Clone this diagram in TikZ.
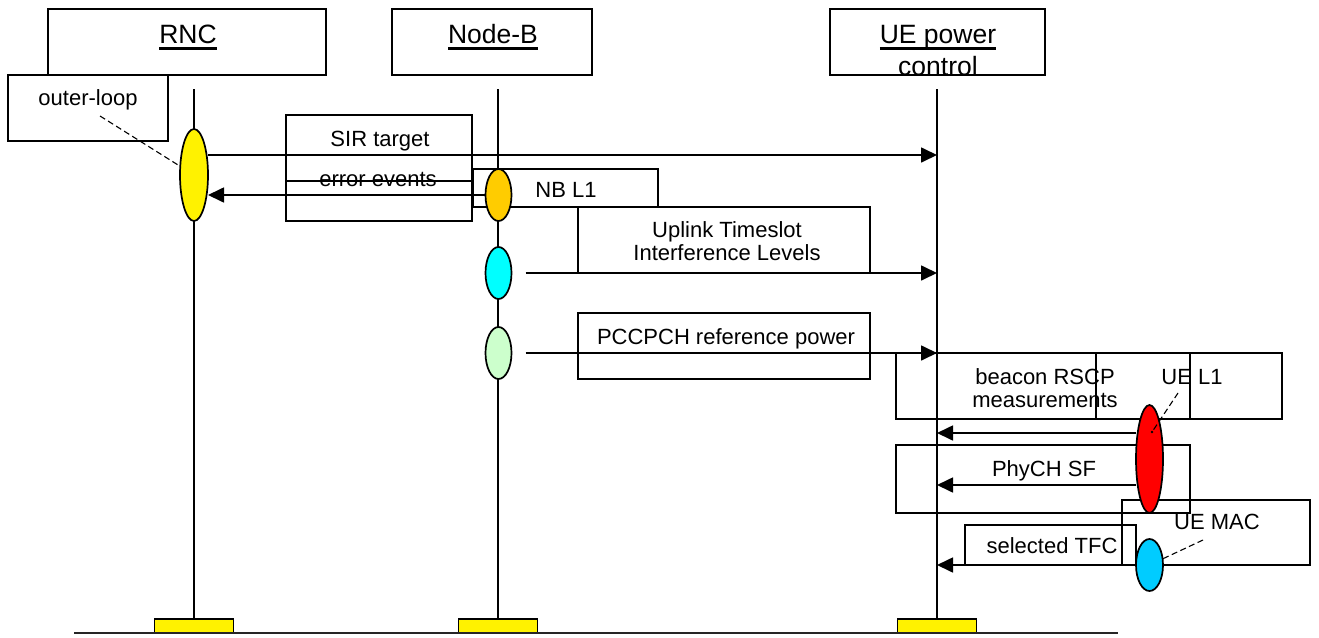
\documentclass[tikz,border=0pt]{standalone}
\usepackage{fontspec}
\setmainfont{Liberation Sans}
\usetikzlibrary{arrows.meta,shapes.geometric}

% underlined header word with a heavy rule
\newcommand\hdul[1]{\setbox0\hbox{#1}\rlap{\rule[-6.6pt]{\wd0}{3pt}}\box0}
% centred multi-line label whose base is the first line's baseline
\newcommand\lines[1]{\begin{tabular}[t]{@{}c@{}}#1\end{tabular}}

\tikzset{
  box/.style={draw, line width=1.7pt, inner sep=0pt, outer sep=0pt, anchor=north west},
  lbl/.style={font=\fontsize{22}{23.5}\selectfont, anchor=base, inner sep=0pt},
  hdr/.style={font=\fontsize{26.5}{32}\selectfont, anchor=base, inner sep=0pt},
  life/.style={line width=1.7pt},
  msg/.style={line width=1.7pt, -{Triangle[length=16pt,width=15pt]}},
  note/.style={line width=1.1pt, dash pattern=on 6pt off 3.5pt},
  proc/.style={ellipse, draw, line width=1.7pt, inner sep=0pt, outer sep=0pt,
               minimum width=26pt, minimum height=52pt},
  bar/.style={draw, line width=1.8pt, fill=yellow, inner sep=0pt, outer sep=0pt,
              minimum width=79pt, minimum height=14pt, anchor=south},
}
\definecolor{procOrange}{HTML}{FFCC00}
\definecolor{procCyan}{HTML}{00FFFF}
\definecolor{procGreen}{HTML}{CCFFCC}
\definecolor{procBlue}{HTML}{00CCFF}

\begin{document}
\begin{tikzpicture}[x=1pt,y=-1pt]
\useasboundingbox (0,0) rectangle (1319,637);

% entity headers
\node[box, minimum width=278pt, minimum height=66pt] (rncBox) at (48,9) {};
\node[box, minimum width=200pt, minimum height=66pt] (nbBox) at (392,9) {};
\node[box, minimum width=215pt, minimum height=66pt] (ueBox) at (830,9) {};
\node[hdr] (rncTxt) at (188,43) {\hdul{RNC}};
\node[hdr] (nbTxt) at (493,43) {\hdul{Node-B}};
\node[hdr] (ueTxt) at (938,43) {\lines{\hdul{UE power}\\control}};

% label frames
\node[box, minimum width=160pt, minimum height=66pt] (olBox) at (8,75) {};
\node[box, minimum width=186pt, minimum height=66pt] (sirBox) at (286,115) {};
\node[box, minimum width=186pt, minimum height=66pt] (errBox) at (286,155) {};
\node[box, minimum width=185pt, minimum height=38pt] (nbl1Box) at (473,169) {};
\node[box, minimum width=292pt, minimum height=66pt] (ulBox) at (578,207) {};
\node[box, minimum width=292pt, minimum height=66pt] (pcBox) at (578,313) {};
\node[box, minimum width=294pt, minimum height=66pt] (bcBox) at (896,353) {};
\node[box, minimum width=186pt, minimum height=66pt] (uel1Box) at (1096,353) {};
\node[box, minimum width=294pt, minimum height=68pt] (phBox) at (896,445) {};
\node[box, minimum width=188pt, minimum height=65pt] (macBox) at (1122,500) {};
\node[box, minimum width=171pt, minimum height=40pt] (tfcBox) at (965,525) {};

% baseline and lifeline feet
\node[bar] (rncBar) at (194,633) {};
\node[bar] (nbBar) at (498,633) {};
\node[bar] (ueBar) at (937,633) {};
\coordinate (baseL) at (74,633);
\coordinate (baseR) at (1118,633);
\draw[line width=2.6pt, black!85] (baseL) -- (baseR);

% lifelines
\coordinate (rncTop) at (194,89);
\coordinate (nbTop) at (498,89);
\coordinate (ueTop) at (937,89);
\draw[life] (rncTop) -- (rncBar.north);
\draw[life] (nbTop) -- (nbBar.north);
\draw[life] (ueTop) -- (ueBar.north);

% processing ellipses
\node[proc, fill=yellow, minimum width=28pt, minimum height=92pt] (yel) at (194,175) {};
\node[proc, fill=procOrange] (orng) at (498.5,195) {};
\node[proc, fill=procCyan] (cyan) at (498.5,273) {};
\node[proc, fill=procGreen] (grn) at (498.5,353) {};
\node[proc, fill=red, minimum width=27pt, minimum height=108pt] (redE) at (1149.5,459) {};
\node[proc, fill=procBlue, minimum width=27pt] (blueE) at (1149.5,565) {};

% messages
\coordinate (sirS) at ([yshift=20pt]yel.east);
\draw[msg] (sirS) -- (sirS -| ueTop);
\draw[msg] (orng.west) -- (orng.west -| yel.east);
\coordinate (ulS) at ([xshift=14pt]cyan.east);
\draw[msg] (ulS) -- (ulS -| ueTop);
\coordinate (pcS) at ([xshift=14pt]grn.east);
\draw[msg] (pcS) -- (pcS -| ueTop);
\coordinate (bcS) at ([yshift=26pt]redE.west);
\draw[msg] (bcS) -- (bcS -| ueTop);
\coordinate (phS) at ([yshift=-26pt]redE.west);
\draw[msg] (phS) -- (phS -| ueTop);
\draw[msg] (blueE.west) -- (blueE.west -| ueTop);

% labels
\node[lbl] (olTxt) at (88,105) {outer-loop};
\node[lbl] (sirTxt) at (380,146) {SIR target};
\node[lbl] (errTxt) at (378,186) {error events};
\node[lbl] (nbl1Txt) at (566,197) {NB L1};
\node[lbl] (ulTxt) at (727,237) {\lines{Uplink Timeslot\\Interference Levels}};
\node[lbl] (pcTxt) at (726,344) {PCCPCH reference power};
\node[lbl] (bcTxt) at (1045,384) {\lines{beacon RSCP\\measurements}};
\node[lbl] (uel1Txt) at (1192,384) {UE L1};
\node[lbl] (phTxt) at (1044,476) {PhyCH SF};
\node[lbl] (macTxt) at (1217,529) {UE MAC};
\node[lbl] (tfcTxt) at (1052,553) {selected TFC};

% dashed callouts from layer names to their ellipses
\coordinate (olTail) at (100,116);
\draw[note] (olTail) -- (yel);
\coordinate (l1Tail) at (1178,393);
\coordinate (l1Head) at ([shift={(2.5pt,27pt)}]redE.center);
\draw[note] (l1Tail) -- (l1Head);
\fill (l1Head) circle (1.4pt);
\coordinate (macTail) at (1203,540);
\draw[note] (macTail) -- (blueE);
\end{tikzpicture}
\end{document}
